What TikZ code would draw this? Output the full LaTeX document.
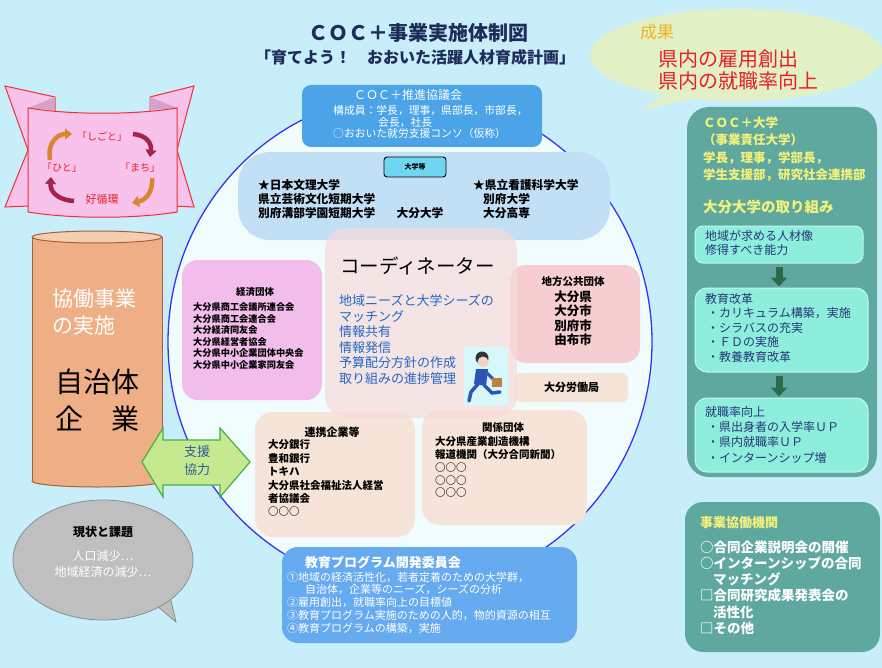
\documentclass[tikz,border=0pt]{standalone}
\usepackage{fontspec}
\setmainfont{Noto Sans CJK JP}
\usepackage{tikz}
\usetikzlibrary{arrows.meta,positioning}

\definecolor{bgcyan}{HTML}{C8EEF9}
\definecolor{navy}{HTML}{1E2C5A}
\definecolor{bubble}{HTML}{E2F0C6}
\definecolor{gold}{HTML}{F2B41C}
\definecolor{redtxt}{HTML}{E82027}
\definecolor{cocblue}{HTML}{4BA4E8}
\definecolor{univblue}{HTML}{C2E0F5}
\definecolor{tagcyan}{HTML}{6ED7EF}
\definecolor{coordpink}{HTML}{F7DADA}
\definecolor{coordblue}{HTML}{2368C4}
\definecolor{picbg}{HTML}{D6F8FB}
\definecolor{econpink}{HTML}{F3BDEB}
\definecolor{govpink}{HTML}{F6CDD0}
\definecolor{peach}{HTML}{F7E4D8}
\definecolor{progblue}{HTML}{66AAF0}
\definecolor{teal}{HTML}{5FA8A0}
\definecolor{mint}{HTML}{8EEEDC}
\definecolor{mintedge}{HTML}{C4F6EE}
\definecolor{arrgreen}{HTML}{2B6B4A}
\definecolor{paneltxt}{HTML}{F2F27A}
\definecolor{boxtxt}{HTML}{26367A}
\definecolor{cylfill}{HTML}{EFAF86}
\definecolor{cyltop}{HTML}{F5CDB0}
\definecolor{cyledge}{HTML}{A8603A}
\definecolor{supfill}{HTML}{C6E98F}
\definecolor{supedge}{HTML}{3EB446}
\definecolor{suptxt}{HTML}{2E5C9C}
\definecolor{issuegray}{HTML}{BFBFBF}
\definecolor{ribbon}{HTML}{F9C2EA}
\definecolor{ribbonedge}{HTML}{F03030}
\definecolor{ribbonfold}{HTML}{D6A2CC}
\definecolor{orangearr}{HTML}{DB8533}
\definecolor{redarr}{HTML}{A3234A}
\definecolor{ringblue}{HTML}{3535F0}
\definecolor{ringfill}{HTML}{F1FCFE}
\definecolor{skin}{HTML}{F4D2C2}
\definecolor{suit}{HTML}{2A56B8}

\newcommand{\fsz}[2]{\fontsize{#1}{#2}\selectfont}

\tikzset{
  panel/.style={rectangle, inner sep=0pt, rounded corners=#1},
  panel/.default=16pt,
  txt/.style={inner sep=0pt, anchor=north west, align=left},
  ctxt/.style={inner sep=0pt, align=center},
  cyc/.style={line width=4.5pt},
  downarr/.style={draw=arrgreen, line width=7pt, -{Triangle[length=9pt,width=16pt]}, shorten <=3pt, shorten >=1pt}
}

\begin{document}
\begin{tikzpicture}[x=1pt, y=-1pt]
\fill[bgcyan] (0,0) rectangle (882,668);
\useasboundingbox (0,0) rectangle (882,668);

\filldraw[draw=ringblue, line width=1.3pt, fill=ringfill] (410,342) ellipse (242 and 248);

\node[ctxt, font=\fsz{20}{22}\bfseries, text=navy] (title) at (418,33) {ＣＯＣ＋事業実施体制図};
\node[ctxt, font=\fsz{16}{18}\bfseries, text=navy] (subtitle) at (415,57) {「育てよう！　おおいた活躍人材育成計画」};

% outcome bubble
\fill[bubble] (668,92) -- (642,110) -- (700,97) -- cycle;
\fill[bubble] (737,55) ellipse (147 and 46);
\node[txt, font=\fsz{17}{19}, text=gold] (outT) at (640,24.5) {成果};
\node[txt, font=\fsz{20}{22}, text=redtxt] (outL) at (658,50) {県内の雇用創出\\県内の就職率向上};

\node[panel=32pt, fill=univblue, minimum width=372pt, minimum height=88pt] (univ) at (424,196) {};
\node[panel=3pt, draw=black, line width=0.9pt, fill=tagcyan, minimum width=62pt, minimum height=20pt, font=\fsz{7}{8}\bfseries] (univtag) at (415,167) {大学等};
\node[txt, font=\fsz{11.7}{14}\bfseries] (univL) at (258,179) {★日本文理大学\\県立芸術文化短期大学\\別府溝部学園短期大学};
\node[ctxt, font=\fsz{11.7}{14}\bfseries] (oitaU) at (420,213) {大分大学};
\node[txt, font=\fsz{11.7}{14}\bfseries] (univR) at (473,179) {★県立看護科学大学\\\hspace*{10pt}別府大学\\\hspace*{10pt}大分高専};

\node[panel=9pt, fill=cocblue, minimum width=240pt, minimum height=62pt] (council) at (422,116) {};
\node[ctxt, font=\fsz{12}{13}, text=white] (councilT) at (408,95) {ＣＯＣ＋推進協議会};
\node[txt, font=\fsz{10.8}{11.2}, text=white] (councilL) at (333,105.6) {構成員：学長，理事，県部長，市部長，\\\hspace*{45pt}会長，社長\\○おおいた就労支援コンソ（仮称）};

\node[panel, fill=econpink, minimum width=140pt, minimum height=140pt] (econ) at (252,330) {};
\node[ctxt, font=\fsz{9.5}{10}\bfseries] (econT) at (255,292) {経済団体};
\node[txt, font=\fsz{9.2}{11.6}\bfseries] (econL) at (193,302.4) {大分県商工会議所連合会\\大分県商工会連合会\\大分経済同友会\\大分県経営者協会\\大分県中小企業団体中央会\\大分県中小企業家同友会};

\node[panel, fill=govpink, minimum width=130pt, minimum height=98pt] (gov) at (575,314) {};
\node[ctxt, font=\fsz{10.5}{11}\bfseries] (govT) at (573,282) {地方公共団体};
\node[ctxt, anchor=north, font=\fsz{12.5}{14.3}\bfseries] (govL) at (573,290.8) {大分県\\大分市\\別府市\\由布市};
\node[panel=6pt, fill=peach, minimum width=113pt, minimum height=29pt, font=\fsz{11}{12}\bfseries] (labour) at (571.5,387.5) {大分労働局};

\node[panel=18pt, fill=peach, minimum width=160pt, minimum height=125pt] (firms) at (335,474.5) {};
\node[ctxt, font=\fsz{11}{12}\bfseries] (firmsT) at (332,432) {連携企業等};
\node[txt, font=\fsz{10.5}{13.4}\bfseries] (firmsL) at (268,439.8) {大分銀行\\豊和銀行\\トキハ\\大分県社会福祉法人経営\\者協議会\\○○○};

\node[panel=18pt, fill=peach, minimum width=165pt, minimum height=115pt] (assoc) at (504.5,467.5) {};
\node[ctxt, font=\fsz{10.5}{11}\bfseries] (assocT) at (503,428) {関係団体};
\node[txt, font=\fsz{10.5}{12.7}\bfseries] (assocL) at (435,436.8) {大分県産業創造機構\\報道機関（大分合同新聞）\\○○○\\○○○\\○○○};

% coordinator
\node[panel=22pt, fill=coordpink, fill opacity=0.7, minimum width=192pt, minimum height=190pt] (coord) at (421,323) {};
\node[txt, font=\fsz{19.5}{21}] (coordT) at (340,257) {コーディネーター};
\node[txt, font=\fsz{13}{15.5}, text=coordblue] (coordL) at (339,294.5) {地域ニーズと大学シーズの\\マッチング\\情報共有\\情報発信\\予算配分方針の作成\\取り組みの進捗管理};
\fill[picbg] (464,347) rectangle (508,405);
\fill[black!80] (482,358) circle (6.5);
\fill[skin] (483,362) circle (5.5);
\fill[suit] (476,369) -- (488,369) -- (486,386) -- (474,384) -- cycle;
\draw[suit, line width=3.5pt, line cap=round] (478,384) -- (471,392) -- (469,401);
\draw[suit, line width=3.5pt, line cap=round] (484,385) -- (492,393) -- (500,392);
\draw[suit, line width=3pt, line cap=round] (486,372) -- (494,380);
\fill[brown] (492,378) rectangle (502,387);

\node[panel, fill=progblue, minimum width=295pt, minimum height=96pt] (prog) at (429.5,595) {};
\node[txt, font=\fsz{13}{14}\bfseries, text=white] (progT) at (305,555.5) {教育プログラム開発委員会};
\node[txt, font=\fsz{11}{12.75}, text=white] (progL) at (287,571.5) {①地域の経済活性化，若者定着のための大学群，\\\hspace*{18pt}自治体，企業等のニーズ，シーズの分析\\②雇用創出，就職率向上の目標値\\③教育プログラム実施のための人的，物的資源の相互\\④教育プログラムの構築，実施};

% university side
\node[panel=22pt, fill=teal, minimum width=190pt, minimum height=370pt] (cocU) at (782,292) {};
\node[txt, font=\fsz{12.5}{17.3}\bfseries, text=paneltxt] (cocUT) at (703,116.5) {ＣＯＣ＋大学\\（事業責任大学）\\学長，理事，学部長，\\学生支援部，研究社会連携部};
\node[txt, font=\fsz{14.5}{16}\bfseries, text=paneltxt] (oitaT) at (703,199.8) {大分大学の取り組み};
\node[panel=8pt, fill=mint, draw=mintedge, line width=1pt, minimum width=168pt, minimum height=37pt] (goal) at (779,244.5) {};
\node[txt, font=\fsz{12}{14}, text=boxtxt] (goalL) at (705,230) {地域が求める人材像\\修得すべき能力};
\node[panel=12pt, fill=mint, draw=mintedge, line width=1pt, minimum width=173pt, minimum height=84pt] (reform) at (781.5,330) {};
\node[txt, font=\fsz{12}{14.5}, text=boxtxt] (reformL) at (705,293) {教育改革\\\hspace*{2pt}・カリキュラム構築，実施\\\hspace*{2pt}・シラバスの充実\\\hspace*{2pt}・ＦＤの実施\\\hspace*{2pt}・教養教育改革};
\node[panel=12pt, fill=mint, draw=mintedge, line width=1pt, minimum width=173pt, minimum height=74pt] (employ) at (781.5,435) {};
\node[txt, font=\fsz{12}{15.3}, text=boxtxt] (employL) at (705,406) {就職率向上\\\hspace*{2pt}・県出身者の入学率ＵＰ\\\hspace*{2pt}・県内就職率ＵＰ\\\hspace*{2pt}・インターンシップ増};
\draw[downarr] (goal.south) -- (goal.south |- reform.north);
\draw[downarr] (goal.south |- reform.south) -- (goal.south |- employ.north);

\node[panel=18pt, fill=teal, minimum width=195pt, minimum height=150pt] (coop) at (782.5,577) {};
\node[txt, font=\fsz{13}{14}\bfseries, text=paneltxt] (coopT) at (700,516.5) {事業協働機関};
\node[txt, font=\fsz{13.5}{16.3}\bfseries, text=white] (coopL) at (700,540.2) {○合同企業説明会の開催\\○インターンシップの合同\\\hspace*{13pt}マッチング\\□合同研究成果発表会の\\\hspace*{13pt}活性化\\□その他};

% ribbon
\filldraw[fill=ribbon, draw=ribbonedge, line width=1pt] (5,86) -- (55,97) -- (55,205) -- (5,207) -- (28,150) -- cycle;
\filldraw[fill=ribbon, draw=ribbonedge, line width=1pt] (194,86) -- (150,97) -- (150,205) -- (194,207) -- (177,150) -- cycle;
\fill[ribbonfold] (28,108) -- (55,97) -- (55,110) -- cycle;
\fill[ribbonfold] (177,108) -- (150,97) -- (150,110) -- cycle;
\filldraw[fill=ribbon, draw=ribbonedge, line width=1pt] (28,108) .. controls (70,115) and (135,115) .. (177,108) -- (177,212) .. controls (135,219) and (70,219) .. (28,212) -- cycle;
\node[ctxt, font=\fsz{10}{11}, text=redtxt] (shigoto) at (102,137) {「しごと」};
\node[ctxt, font=\fsz{10}{11}, text=redtxt] (hito) at (62,168) {「ひと」};
\node[ctxt, font=\fsz{10}{11}, text=redtxt] (machi) at (140,168) {「まち」};
\node[ctxt, font=\fsz{11}{12}, text=redtxt] (cycle) at (102,199) {好循環};
\draw[cyc, draw=orangearr, -{Triangle[length=7pt,width=11pt,fill=orangearr]}] (50,160) .. controls (47,142) and (58,134) .. (72,134);
\draw[cyc, draw=redarr, -{Triangle[length=7pt,width=11pt,fill=redarr]}] (133,134) .. controls (146,135) and (152,143) .. (150,157);
\draw[cyc, draw=orangearr, -{Triangle[length=7pt,width=11pt,fill=orangearr]}] (152,178) .. controls (153,192) and (146,200) .. (132,203);
\draw[cyc, draw=redarr, -{Triangle[length=7pt,width=11pt,fill=redarr]}] (74,201) .. controls (58,200) and (50,192) .. (51,177);

% cylinder
\filldraw[fill=cylfill, draw=cyledge, line width=1pt] (97,481) ellipse (65 and 6);
\fill[cylfill] (32,237) rectangle (162,481);
\draw[cyledge, line width=1pt] (32,237) -- (32,481);
\draw[cyledge, line width=1pt] (162,237) -- (162,481);
\filldraw[fill=cyltop, draw=cyledge, line width=1pt] (97,237) ellipse (65 and 6);
\node[txt, font=\fsz{21}{27}, text=white] (cylA) at (52,288.5) {協働事業\\の実施};
\node[ctxt, anchor=north, font=\fsz{28}{37}] (cylB) at (97,369) {自治体\\企　業};

% support arrow
\filldraw[fill=supfill, draw=supedge, line width=1.2pt] (142,462) -- (163,428) -- (163,440) -- (220,440) -- (220,428) -- (250,462) -- (220,497) -- (220,485) -- (163,485) -- (163,497) -- cycle;
\node[ctxt, font=\fsz{13}{18}, text=suptxt] (support) at (197,461) {支援\\協力};

% issues
\filldraw[fill=issuegray, draw=black!45, line width=0.8pt] (150,600) -- (176,622) -- (168,588) -- cycle;
\filldraw[fill=issuegray, draw=black!45, line width=0.8pt] (103,560) ellipse (90 and 60);
\fill[issuegray] (150,598) -- (168,590) -- (160,585) -- cycle;
\node[ctxt, font=\fsz{12}{13}\bfseries] (issueT) at (103,532) {現状と課題};
\node[ctxt, font=\fsz{12}{16}, text=white] (issueL) at (103,564) {人口減少…\\地域経済の減少…};
\end{tikzpicture}
\end{document}
